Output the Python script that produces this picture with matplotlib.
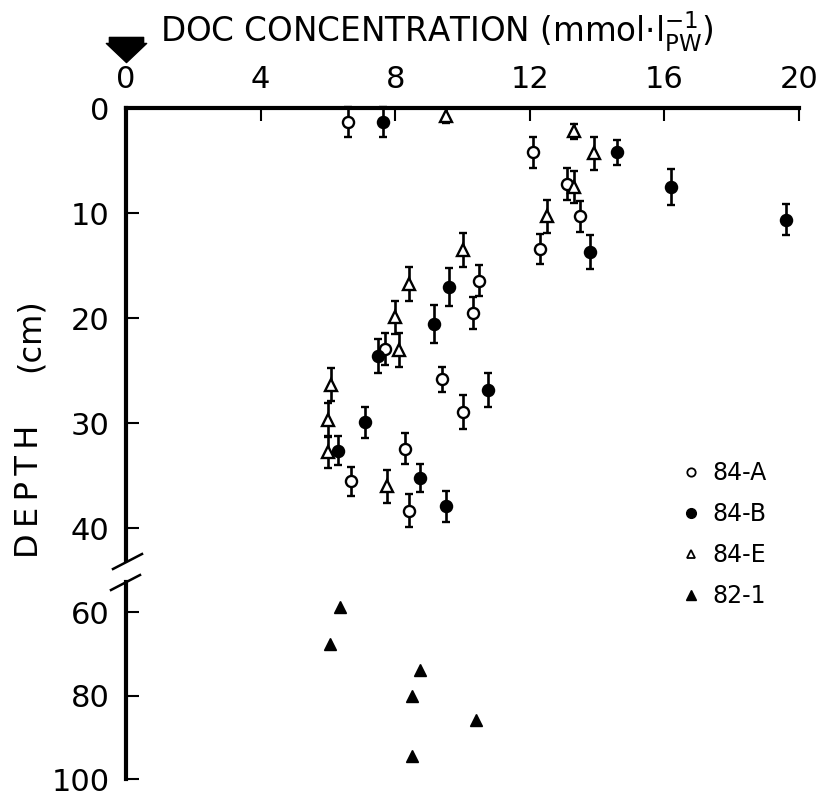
import numpy as np
import matplotlib
matplotlib.use('Agg')
import matplotlib.pyplot as plt
from matplotlib.path import Path
from matplotlib.lines import Line2D
import matplotlib.transforms as mtransforms

plt.rcParams['font.family'] = ['DejaVu Sans']
plt.rcParams['mathtext.fontset'] = 'dejavusans'

# DOC concentration (mmol/l) vs depth (cm)
a_doc = [6.6, 12.1, 13.1, 13.5, 12.3, 10.5, 10.3, 7.7, 9.4, 10.0, 8.3, 6.7, 8.4]
a_depth = [1.3, 4.2, 7.2, 10.3, 13.4, 16.4, 19.5, 22.9, 25.8, 28.9, 32.4, 35.5, 38.3]
a_err = [1.4, 1.5, 1.5, 1.5, 1.4, 1.5, 1.5, 1.5, 1.2, 1.6, 1.5, 1.4, 1.6]

b_doc = [7.65, 14.6, 16.2, 19.6, 13.8, 9.6, 9.15, 7.5, 10.75, 7.1, 6.3, 8.75, 9.5]
b_depth = [1.3, 4.2, 7.5, 10.6, 13.7, 17.0, 20.5, 23.6, 26.8, 29.9, 32.6, 35.2, 37.9]
b_err = [1.4, 1.2, 1.7, 1.5, 1.6, 1.8, 1.8, 1.6, 1.6, 1.5, 1.4, 1.3, 1.5]

e_doc = [9.5, 13.3, 13.9, 13.3, 12.5, 10.0, 8.4, 8.0, 8.1, 6.1, 6.0, 6.0, 7.75]
e_depth = [0.7, 2.2, 4.3, 7.5, 10.3, 13.5, 16.7, 19.9, 23.0, 26.3, 29.7, 32.7, 36.0]
e_err = [0.7, 0.7, 1.6, 1.5, 1.6, 1.6, 1.6, 1.6, 1.6, 1.6, 1.6, 1.5, 1.6]

i_doc = [6.35, 6.05, 8.75, 8.5, 10.4, 8.5]
i_depth = [58.7, 67.7, 73.8, 80.0, 85.7, 94.5]

xticks = [0, 4, 8, 12, 16, 20]
top_yticks = [0, 10, 20, 30, 40]
bot_yticks = [60, 80, 100]
labels = ['84-A', '84-B', '84-E', '82-1']

W, H = 820, 796
fig = plt.figure(figsize=(W / 100, H / 100), dpi=100)

left, right = 126, 799
ax = fig.add_axes([left / W, 1 - 560 / H, (right - left) / W, (560 - 108.3) / H])
ax2 = fig.add_axes([left / W, 1 - 779.3 / H, (right - left) / W, (779.3 - 581.7) / H])
ax2.set_facecolor('none')

ax.set_xlim(0, 20)
ax.set_ylim(43, 0)
ax2.set_xlim(0, 20)
ax2.set_ylim(100, 52.7)

ebkw = dict(ls='none', ecolor='black', elinewidth=1.9, capsize=3.2, capthick=1.9,
            markersize=8, markeredgewidth=1.7, markeredgecolor='black', clip_on=False)
ax.errorbar(a_doc, a_depth, yerr=a_err, fmt='o', mfc='white', **ebkw)
ax.errorbar(b_doc, b_depth, yerr=b_err, fmt='o', mfc='black', **ebkw)
ax.errorbar(e_doc, e_depth, yerr=e_err, fmt='^', mfc='white', **ebkw)
ax2.plot(i_doc, i_depth, '^', color='black', ms=8.5, clip_on=False)

for a in (ax, ax2):
    for s in ('right', 'bottom', 'top'):
        a.spines[s].set_visible(False)
    a.spines['left'].set_linewidth(3)
    a.tick_params(axis='y', direction='in', length=9, width=1.5, labelsize=22, pad=12)
    a.set_xticks(xticks)

ax.spines['top'].set_visible(True)
ax.spines['top'].set_linewidth(3)
ax.xaxis.tick_top()
ax.tick_params(axis='x', direction='in', length=9, width=1.5, labelsize=22, pad=10)
ax.set_yticks(top_yticks)
ax.set_xticklabels([str(t) for t in xticks])

ax2.tick_params(axis='x', which='both', bottom=False, top=False, labelbottom=False)
ax2.set_yticks(bot_yticks)
ax2.set_yticklabels(['60', '80', '100'])

# break marks on the depth axis
bk = dict(color='black', lw=1.8, clip_on=False)
fig.add_artist(Line2D([113 / W, 142 / W], [1 - 569 / H, 1 - 554 / H], transform=fig.transFigure, **bk))
fig.add_artist(Line2D([111 / W, 140 / W], [1 - 590 / H, 1 - 575 / H], transform=fig.transFigure, **bk))

# arrow above zero
arrow = Path([(-0.85, 0.6), (0.85, 0.6), (0.85, 0.3), (1, 0.3), (0, -0.65),
              (-1, 0.3), (-0.85, 0.3), (-0.85, 0.6)],
             [Path.MOVETO] + [Path.LINETO] * 6 + [Path.CLOSEPOLY])
trans = mtransforms.blended_transform_factory(ax.transData, ax.transAxes)
ax.plot([0], [1.131], marker=arrow, ms=29, color='black', transform=trans, clip_on=False)

fig.text(160 / W, 1 - 42 / H, r'DOC CONCENTRATION (mmol$\cdot$l$^{-1}_{\mathrm{PW}}$)',
         fontsize=23.5, ha='left', va='baseline')
fig.text(30 / W, 1 - 558 / H, 'D\u2009E\u2009P\u2009T\u2009H', fontsize=23, rotation=90,
         ha='center', va='bottom')
fig.text(30 / W, 1 - 335 / H, '(cm)', fontsize=23, rotation=90,
         ha='center', va='center')

handles = [
    Line2D([], [], ls='', marker='o', mfc='white', mec='black', mew=1.3, ms=6),
    Line2D([], [], ls='', marker='o', mfc='black', mec='black', ms=7),
    Line2D([], [], ls='', marker='^', mfc='white', mec='black', mew=1.3, ms=6),
    Line2D([], [], ls='', marker='^', mfc='black', mec='black', ms=7),
]
leg = ax.legend(handles, labels, loc='upper left', bbox_to_anchor=(0.815, 0.239), frameon=False,
                fontsize=17, handlelength=0.6, handletextpad=0.6, labelspacing=0.72,
                borderaxespad=0)
leg.set_zorder(10)
ax.set_zorder(2)
ax.patch.set_visible(False)

fig.savefig('out.png', dpi=100)
